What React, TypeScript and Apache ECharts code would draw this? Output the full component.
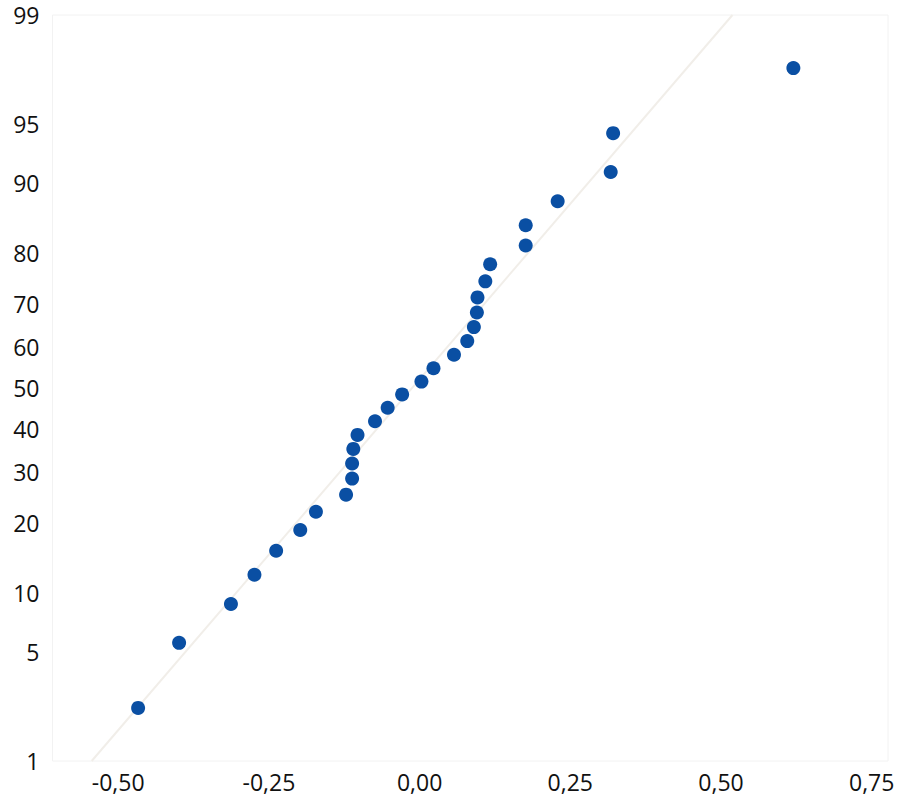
import React, { useEffect, useRef } from "react";
import * as echarts from "echarts";

// Observed values (x) and their plotting-position probabilities (%)
const xValues: number[] = [
  -0.467, -0.399, -0.313, -0.274, -0.238, -0.198, -0.172, -0.122, -0.112, -0.112,
  -0.110, -0.103, -0.074, -0.053, -0.029, 0.003, 0.023, 0.057, 0.079, 0.090,
  0.095, 0.096, 0.109, 0.117, 0.176, 0.176, 0.229, 0.317, 0.321, 0.620,
];
const probValues: number[] = [
  2.3, 5.6, 8.9, 12.2, 15.5, 18.8, 22.0, 25.3, 28.6, 31.9,
  35.2, 38.5, 41.8, 45.1, 48.4, 51.6, 54.9, 58.2, 61.5, 64.8,
  68.1, 71.4, 74.7, 78.0, 81.3, 84.5, 87.8, 91.1, 94.4, 97.7,
];

// Fitted reference line endpoints: [x, probability %]
const refLineX: number[] = [-0.544, 0.519];
const refLineP: number[] = [1, 99];

// Tick labels
const yTickLabels: number[] = [1, 5, 10, 20, 30, 40, 50, 60, 70, 80, 90, 95, 99];
const xTickValues: number[] = [-0.5, -0.25, 0, 0.25, 0.5, 0.75];

// inverse standard normal CDF (Acklam) – used only as the axis scale transform
function probit(p: number): number {
  const a = [-3.969683028665376e1, 2.209460984245205e2, -2.759285104469687e2, 1.38357751867269e2, -3.066479806614716e1, 2.506628277459239];
  const b = [-5.447609879822406e1, 1.615858368580409e2, -1.556989798598866e2, 6.680131188771972e1, -1.328068155288572e1];
  const c = [-7.784894002430293e-3, -3.223964580411365e-1, -2.400758277161838, -2.549732539343734, 4.374664141464968, 2.938163982698783];
  const d = [7.784695709041462e-3, 3.224671290700398e-1, 2.445134137142996, 3.754408661907416];
  const pl = 0.02425;
  let q: number, r: number;
  if (p < pl) {
    q = Math.sqrt(-2 * Math.log(p));
    return (((((c[0] * q + c[1]) * q + c[2]) * q + c[3]) * q + c[4]) * q + c[5]) /
      ((((d[0] * q + d[1]) * q + d[2]) * q + d[3]) * q + 1);
  } else if (p <= 1 - pl) {
    q = p - 0.5;
    r = q * q;
    return (((((a[0] * r + a[1]) * r + a[2]) * r + a[3]) * r + a[4]) * r + a[5]) * q /
      (((((b[0] * r + b[1]) * r + b[2]) * r + b[3]) * r + b[4]) * r + 1);
  } else {
    q = Math.sqrt(-2 * Math.log(1 - p));
    return -(((((c[0] * q + c[1]) * q + c[2]) * q + c[3]) * q + c[4]) * q + c[5]) /
      ((((d[0] * q + d[1]) * q + d[2]) * q + d[3]) * q + 1);
  }
}

export default function App() {
  const ref = useRef<HTMLDivElement>(null);
  useEffect(() => {
    if (!ref.current) return;
    const chart = echarts.init(ref.current, undefined, { renderer: "svg" });
    const yTickZ = yTickLabels.map((p) => probit(p / 100));
    const zMin = probit(0.01);
    const zMax = probit(0.99);
    const font = "'Open Sans', 'Noto Sans', sans-serif";
    const fmtX = (v: number) => v.toFixed(2).replace(".", ",");
    chart.setOption({
      animation: false,
      backgroundColor: "#ffffff",
      grid: {
        left: 52.5,
        right: 13,
        top: 15,
        bottom: 41,
        show: true,
        borderColor: "#f2f2f2",
        borderWidth: 1,
        backgroundColor: "transparent",
      },
      xAxis: {
        type: "value",
        min: -0.609,
        max: 0.777,
        axisLine: { show: false },
        axisTick: { show: false },
        splitLine: { show: false },
        axisLabel: {
          customValues: xTickValues,
          formatter: (v: number) => fmtX(v),
          fontFamily: font,
          fontSize: 23,
          color: "#111111",
          margin: 9,
        },
      },
      yAxis: {
        type: "value",
        min: zMin,
        max: zMax,
        axisLine: { show: false },
        axisTick: { show: false },
        splitLine: { show: false },
        axisLabel: {
          customValues: yTickZ,
          showMinLabel: true,
          showMaxLabel: true,
          formatter: (v: number) => {
            let best = 0;
            let bd = Infinity;
            yTickZ.forEach((z, i) => {
              const dd = Math.abs(z - v);
              if (dd < bd) { bd = dd; best = i; }
            });
            return String(yTickLabels[best]);
          },
          fontFamily: font,
          fontSize: 23,
          color: "#111111",
          margin: 13,
        },
      },
      series: [
        {
          type: "line",
          data: refLineX.map((x, i) => [x, probit(refLineP[i] / 100)]),
          symbol: "none",
          lineStyle: { color: "#f1eee9", width: 2 },
          silent: true,
          z: 1,
        },
        {
          type: "scatter",
          data: xValues.map((x, i) => [x, probit(probValues[i] / 100)]),
          symbol: "circle",
          symbolSize: 14,
          itemStyle: { color: "#0a4fa3", opacity: 1 },
          z: 2,
        },
      ],
    });
    return () => chart.dispose();
  }, []);
  return (
    <div
      ref={ref}
      style={{ position: "fixed", left: 0, top: 0, width: 901, height: 802, background: "#fff" }}
    />
  );
}
